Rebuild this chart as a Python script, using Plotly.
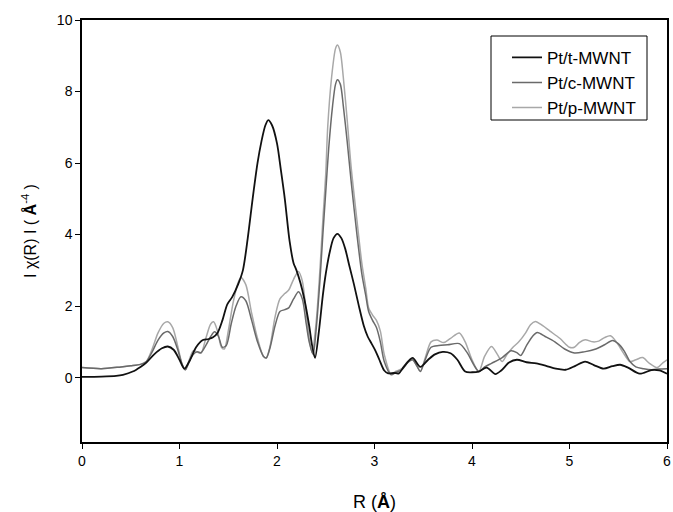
import plotly.graph_objects as go

# Fourier-transformed EXAFS magnitude |chi(R)| for three Pt catalysts
r_t = [0.0, 0.2, 0.35, 0.42, 0.52, 0.6, 0.66, 0.74, 0.82, 0.88, 0.94, 1.0, 1.05, 1.1, 1.17,
       1.24, 1.3, 1.34, 1.39, 1.44, 1.49, 1.54, 1.6, 1.65, 1.7, 1.75, 1.8, 1.84, 1.88, 1.91,
       1.95, 2.0, 2.04, 2.08, 2.13, 2.17, 2.2, 2.24, 2.28, 2.33, 2.36, 2.39, 2.43, 2.47, 2.5,
       2.54, 2.58, 2.62, 2.66, 2.7, 2.74, 2.79, 2.84, 2.89, 2.93, 2.97, 3.01, 3.05, 3.1, 3.14,
       3.2, 3.25, 3.3, 3.39, 3.47, 3.55, 3.62, 3.7, 3.78, 3.85, 3.93, 4.0, 4.07, 4.15, 4.24,
       4.3, 4.38, 4.46, 4.56, 4.66, 4.76, 4.86, 4.96, 5.06, 5.16, 5.25, 5.35, 5.44, 5.52, 5.6,
       5.72, 5.84, 5.92, 6.0]
chi_t = [0.02, 0.03, 0.05, 0.08, 0.17, 0.3, 0.42, 0.65, 0.82, 0.87, 0.78, 0.5, 0.25, 0.45, 0.85,
         1.05, 1.08, 1.12, 1.25, 1.6, 2.05, 2.25, 2.6, 3.0, 3.9, 5.0, 6.0, 6.6, 7.05, 7.2,
         7.05, 6.55, 5.8, 5.0, 3.8, 3.2, 3.0, 2.65, 2.2, 1.45, 0.9, 0.55, 1.3, 2.3, 2.9,
         3.5, 3.9, 4.02, 3.9, 3.6, 3.15, 2.6, 2.0, 1.45, 1.15, 0.95, 0.75, 0.5, 0.2, 0.12,
         0.13, 0.12, 0.3, 0.55, 0.3, 0.5, 0.65, 0.72, 0.68, 0.5, 0.17, 0.15, 0.17, 0.28, 0.1,
         0.2, 0.42, 0.5, 0.43, 0.4, 0.33, 0.25, 0.22, 0.33, 0.45, 0.35, 0.25, 0.32, 0.36, 0.28,
         0.11, 0.21, 0.2, 0.11]

r_c = [0.0, 0.2, 0.4, 0.5, 0.6, 0.66, 0.72, 0.78, 0.84, 0.88, 0.93, 0.98, 1.03, 1.06, 1.1,
       1.14, 1.18, 1.22, 1.27, 1.32, 1.36, 1.4, 1.44, 1.48, 1.53, 1.58, 1.63, 1.68, 1.74, 1.8,
       1.86, 1.89, 1.93, 1.98, 2.03, 2.08, 2.12, 2.17, 2.22, 2.26, 2.3, 2.33, 2.37, 2.4, 2.44,
       2.47, 2.5, 2.53, 2.57, 2.6, 2.62, 2.65, 2.68, 2.72, 2.76, 2.82, 2.87, 2.91, 2.94, 2.98,
       3.02, 3.06, 3.1, 3.17, 3.22, 3.28, 3.34, 3.39, 3.44, 3.47, 3.52, 3.58, 3.66, 3.75, 3.87,
       3.95, 4.02, 4.07, 4.13, 4.2, 4.31, 4.4, 4.46, 4.5, 4.56, 4.62, 4.67, 4.75, 4.85, 4.95,
       5.05, 5.15, 5.27, 5.36, 5.44, 5.5, 5.56, 5.62, 5.68, 5.76, 5.84, 5.92, 6.0]
chi_c = [0.28, 0.25, 0.3, 0.33, 0.37, 0.45, 0.72, 1.05, 1.25, 1.29, 1.15, 0.8, 0.35, 0.22, 0.45,
         0.65, 0.72, 0.7, 0.9, 1.15, 1.28, 1.15, 0.85, 0.9, 1.5, 2.0, 2.26, 2.15, 1.6, 1.0,
         0.6, 0.55, 0.85, 1.45, 1.85, 1.9, 1.95, 2.2, 2.4, 2.2, 1.5, 1.0, 0.65, 1.3, 2.7,
         4.0, 5.2, 6.4, 7.6, 8.2, 8.33, 8.2, 7.6, 6.6, 5.5, 4.0, 2.9, 2.3, 1.85, 1.6,
         1.4, 1.0, 0.45, 0.08, 0.15, 0.22, 0.42, 0.5, 0.3, 0.17, 0.5, 0.85, 0.9, 0.92, 0.95,
         0.7, 0.35, 0.17, 0.3, 0.4, 0.56, 0.75, 0.7, 0.62, 0.9, 1.15, 1.26, 1.15, 1.0, 0.8,
         0.69, 0.72, 0.8, 0.92, 1.04, 0.95, 0.75, 0.45, 0.3, 0.25, 0.22, 0.24, 0.25]

r_p = [0.0, 0.2, 0.4, 0.5, 0.6, 0.66, 0.72, 0.78, 0.84, 0.88, 0.93, 0.98, 1.03, 1.06, 1.1,
       1.14, 1.18, 1.22, 1.27, 1.32, 1.35, 1.39, 1.43, 1.46, 1.5, 1.55, 1.6, 1.63, 1.68, 1.74,
       1.8, 1.86, 1.89, 1.93, 1.98, 2.03, 2.08, 2.12, 2.17, 2.22, 2.26, 2.3, 2.33, 2.36, 2.4,
       2.44, 2.47, 2.5, 2.52, 2.56, 2.6, 2.62, 2.65, 2.68, 2.72, 2.76, 2.82, 2.87, 2.91, 2.94,
       2.98, 3.02, 3.06, 3.1, 3.17, 3.22, 3.28, 3.34, 3.39, 3.44, 3.47, 3.52, 3.58, 3.64, 3.71,
       3.78, 3.87, 3.93, 4.0, 4.07, 4.13, 4.2, 4.26, 4.31, 4.36, 4.42, 4.48, 4.55, 4.6, 4.65,
       4.7, 4.8, 4.9, 5.0, 5.05, 5.1, 5.16, 5.24, 5.3, 5.36, 5.42, 5.48, 5.55, 5.62, 5.68,
       5.75, 5.82, 5.9, 5.96, 6.0]
chi_p = [0.28, 0.25, 0.3, 0.33, 0.37, 0.45, 0.8, 1.25, 1.52, 1.56, 1.4, 0.9, 0.35, 0.22, 0.5,
         0.75, 0.72, 0.68, 1.1, 1.5, 1.56, 1.3, 0.85, 0.8, 1.3, 2.1, 2.65, 2.8, 2.6, 1.8,
         1.1, 0.6, 0.55, 0.9, 1.7, 2.2, 2.35, 2.45, 2.75, 2.97, 2.7, 1.8, 1.1, 0.7, 1.5,
         3.0, 4.4, 5.7, 7.0, 8.4, 9.2, 9.3, 9.1, 8.4, 7.2, 5.9, 4.4, 3.2, 2.5, 1.95,
         1.75, 1.6, 1.3, 0.65, 0.1, 0.18, 0.25, 0.45, 0.5, 0.3, 0.17, 0.55, 1.0, 1.05, 0.98,
         1.1, 1.25, 1.0, 0.5, 0.17, 0.6, 0.87, 0.65, 0.45, 0.65, 0.85, 1.0, 1.25, 1.48, 1.57,
         1.5, 1.3, 1.1, 0.85, 0.85, 0.98, 1.06, 1.0, 1.02, 1.12, 1.17, 1.0, 0.7, 0.45, 0.5,
         0.56, 0.4, 0.28, 0.42, 0.5]

series = [
    ("Pt/t-MWNT", r_t, chi_t, "#111111", 1.8),
    ("Pt/c-MWNT", r_c, chi_c, "#6a6a6a", 1.5),
    ("Pt/p-MWNT", r_p, chi_p, "#a8a8a8", 1.5),
]

fig = go.Figure()
# draw lighter curves underneath the dark one
for name, r, chi, color, width in reversed(series):
    fig.add_trace(go.Scatter(
        x=r, y=chi, name=name, mode="lines",
        line=dict(color=color, width=width, shape="spline", smoothing=0.8),
    ))

font_family = "Liberation Sans, Arial, sans-serif"

fig.update_layout(
    width=673, height=512,
    margin=dict(l=82, r=6, t=20, b=70, autoexpand=False),
    paper_bgcolor="white", plot_bgcolor="white",
    font=dict(family=font_family, size=14, color="black"),
    showlegend=True,
    legend=dict(
        x=(507 - 82) / 585, y=0.953, xanchor="left", yanchor="top",
        traceorder="reversed",
        bgcolor="rgba(255,255,255,0)",
        font=dict(size=17, color="black"),
        tracegroupgap=0,
    ),
    xaxis=dict(
        range=[0, 6], tick0=0, dtick=1,
        showgrid=False, zeroline=False, automargin=False,
        ticklabeloverflow="allow",
        showline=True, linecolor="black", linewidth=1.5, mirror=True,
        ticks="outside", ticklen=5, tickwidth=1.2, tickcolor="black",
        tickfont=dict(size=14),
    ),
    yaxis=dict(
        range=[-1.8, 10], tickvals=[0, 2, 4, 6, 8, 10],
        showgrid=False, zeroline=False, automargin=False,
        showline=True, linecolor="black", linewidth=1.5, mirror=True,
        ticks="outside", ticklen=5, tickwidth=1.2, tickcolor="black",
        tickfont=dict(size=14),
    ),
)

# axis titles placed as paper-anchored annotations
fig.add_annotation(text="R (<b>Å</b>)", xref="paper", yref="paper",
                   x=0.5, y=-60 / 422, xanchor="center", yanchor="middle",
                   showarrow=False, font=dict(size=18))
fig.add_annotation(text="I χ(R) I ( <b>Å</b><sup>-4</sup> )", xref="paper", yref="paper",
                   x=-53 / 585, y=0.5, xanchor="center", yanchor="middle",
                   textangle=-90, showarrow=False, font=dict(size=16))

# frame around the legend entries
fig.add_shape(type="rect", xref="paper", yref="paper",
              x0=(491 - 82) / 585, x1=(647 - 82) / 585,
              y0=(442 - 120) / 422, y1=(442 - 36) / 422,
              line=dict(color="black", width=1), fillcolor="rgba(0,0,0,0)")

fig.write_html("out.html")
